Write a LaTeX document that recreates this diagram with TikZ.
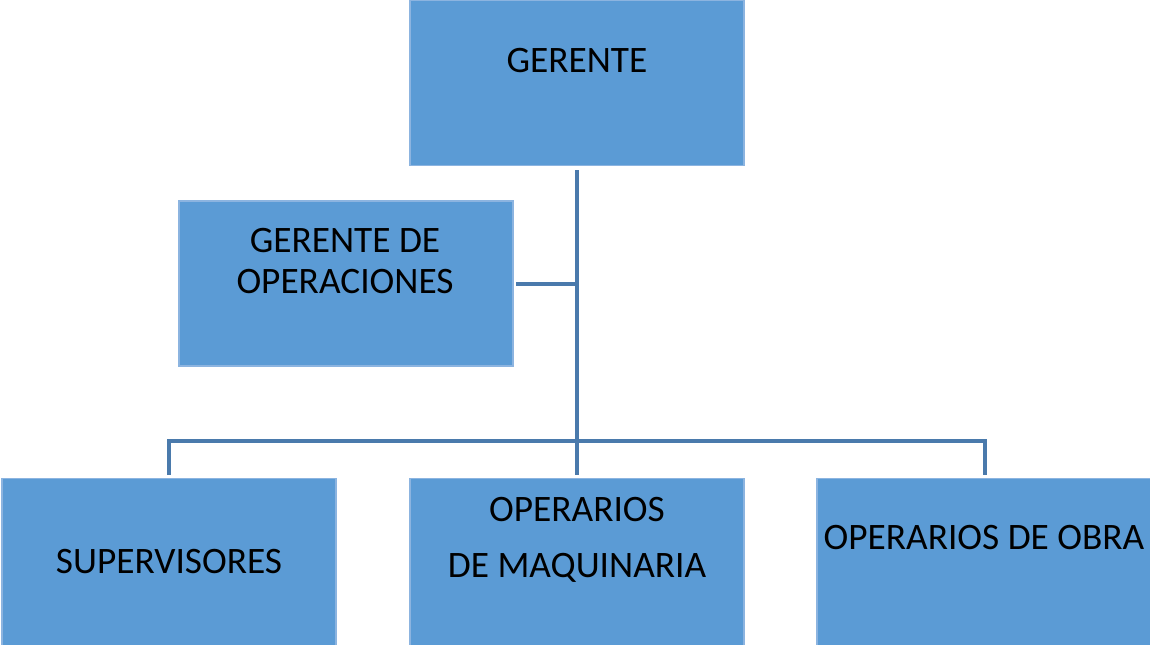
\documentclass[tikz,border=0pt]{standalone}
\usepackage{fontspec}
\setmainfont{Carlito}
\definecolor{boxblue}{RGB}{91,155,213}
\definecolor{boxedge}{RGB}{140,180,224}
\definecolor{linkblue}{RGB}{74,122,172}
\tikzset{cargo/.style = {shape=rectangle,fill=boxblue,draw=boxedge,line width=0.8pt,minimum width=250.5pt,minimum height=123.75pt,inner sep=0}}
\tikzset{rotulo/.style = {anchor=base,align=center,inner sep=0}}
\tikzset{enlace/.style = {draw=linkblue,line width=2.3pt}}

\begin{document}
\begin{tikzpicture}[x=0.75pt,y=-0.75pt,font=\fontsize{28}{30.75}\selectfont]
          \useasboundingbox (0,0) rectangle (1150,644);
          \node[cargo] (GER) at (577,83) {};
          \node[cargo] (GOP) at (346,283.5) {};
          \node[cargo,minimum height=130pt] (SUP) at (169,565) {};
          \node[cargo,minimum height=130pt] (MAQ) at (577,565) {};
          \node[cargo,minimum height=130pt,minimum width=252pt] (OBR) at (985,565) {};

          \node[rotulo] (tGER) at (577,72) {GERENTE};
          \node[rotulo] (tGOP) at (345,293) {GERENTE DE\\OPERACIONES};
          \node[rotulo] (tSUP) at (169,573) {SUPERVISORES};
          \node[rotulo] (tMAQ) at (577,577) {OPERARIOS\\[11pt]DE MAQUINARIA};
          \node[rotulo] (tOBR) at (984,549) {OPERARIOS DE OBRA};

          \coordinate (top) at (577,170);
          \coordinate (mid) at (577,284);
          \coordinate (bus) at (577,441);
          \coordinate (left) at (516,284);
          \coordinate (bSUP) at (169,475);
          \coordinate (bMAQ) at (577,475);
          \coordinate (bOBR) at (985,475);

          \path[enlace] (top) -- (bMAQ);
          \path[enlace] (mid) -- (left);
          \path[enlace] (bSUP) |- (bus) -| (bOBR);
        \end{tikzpicture}
\end{document}
